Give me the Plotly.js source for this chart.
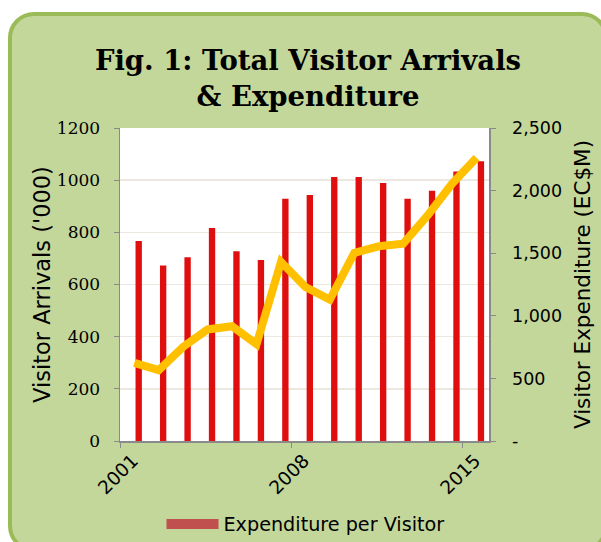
<!DOCTYPE html>
<html>
<head>
<meta charset="utf-8">
<script src="https://cdn.plot.ly/plotly-3.0.1.min.js"></script>
<style>
  html, body { margin: 0; padding: 0; background: #ffffff; width: 601px; height: 542px; overflow: hidden; }
  #box { position: absolute; left: 8px; top: 12px; width: 600px; height: 540px;
         background: #C4D79B; border: 4px solid #9BBB59; border-radius: 26px; box-sizing: border-box; }
  #chart { position: absolute; left: 0; top: 0; width: 601px; height: 542px; }
</style>
</head>
<body>
<div id="box"></div>
<div id="chart"></div>
<script>
// ---- data ----
const years = ['2001','2002','2003','2004','2005','2006','2007','2008','2009','2010','2011','2012','2013','2014','2015'];
const arrivals = [767, 673, 704, 817, 727, 694, 929, 943, 1012, 1012, 989, 929, 959, 1033, 1073];       // '000, left axis
const expenditure = [624, 566, 752, 891, 917, 773, 1430, 1230, 1130, 1502, 1555, 1576, 1802, 2055, 2262]; // EC$M, right axis
const leftTicks = [0, 200, 400, 600, 800, 1000, 1200];
const rightTicks = [0, 500, 1000, 1500, 2000, 2500];
const rightTickText = ['-', '500', '1,000', '1,500', '2,000', '2,500'];
const legendName = 'Expenditure per Visitor';

const sans = 'DejaVu Sans, sans-serif';
const serif = 'DejaVu Serif, serif';

const traces = [
  {
    type: 'bar', x: years, y: arrivals, xaxis: 'x', yaxis: 'y',
    marker: { color: '#E00F0F', line: { width: 0 } },
    width: 0.26, showlegend: false, hoverinfo: 'skip'
  },
  {
    type: 'scatter', mode: 'lines', x: years, y: expenditure, xaxis: 'x2', yaxis: 'y2',
    line: { color: '#FFC000', width: 8, shape: 'linear' },
    showlegend: false, hoverinfo: 'skip'
  },
  {
    type: 'scatter', mode: 'lines', x: [null], y: [null], xaxis: 'x3', yaxis: 'y',
    name: legendName, line: { color: '#C0504D', width: 12 }, showlegend: true
  }
];

const layout = {
  width: 601, height: 542,
  paper_bgcolor: 'rgba(0,0,0,0)',
  plot_bgcolor: '#ffffff',
  margin: { l: 120, r: 112, t: 128, b: 101, pad: 0 },
  title: {
    text: 'Fig. 1: Total Visitor Arrivals<br>& Expenditure',
    font: { family: serif, size: 27.5, color: '#000000', weight: 'bold' },
    x: 308 / 601, xanchor: 'center', xref: 'container',
    y: 1 - 70 / 542, yanchor: 'top', yref: 'container'
  },
  // category axis for the bars: carries the year labels
  xaxis: {
    type: 'category', range: [-0.765, 14.33], dtick: 7,
    ticks: '', showline: true, linecolor: '#8a8a8a', linewidth: 1.5,
    showgrid: false, zeroline: false,
    tickangle: -45, ticklabelstandoff: 10.5, ticklabelshift: -6,
    tickfont: { family: sans, size: 18.6, color: '#000000' },
    fixedrange: true
  },
  // axis for the expenditure line (slightly shifted, as in the original)
  xaxis2: {
    type: 'category', range: [-0.585, 14.51], overlaying: 'x', visible: false, fixedrange: true
  },
  // tick marks only
  xaxis3: {
    type: 'linear', range: [-0.5, 14.595], tick0: -0.5, dtick: 7, overlaying: 'x',
    ticks: 'outside', ticklen: 6, tickcolor: '#8a8a8a', tickwidth: 1,
    showticklabels: false, showline: false, showgrid: false, zeroline: false, fixedrange: true
  },
  yaxis: {
    range: [0, 1200], tickvals: leftTicks,
    ticks: 'outside', ticklen: 5, tickcolor: '#8a8a8a',
    showline: true, linecolor: '#8a8a8a', linewidth: 1.5,
    showgrid: true, gridcolor: '#ECE8E0', gridwidth: 1.5, zeroline: false,
    tickfont: { family: serif, size: 17, color: '#000000' },
    ticklabelstandoff: 10,
    title: { text: "Visitor Arrivals ('000)", font: { family: sans, size: 22.5, color: '#000000' }, standoff: 0 },
    fixedrange: true
  },
  yaxis2: {
    range: [0, 2500], tickvals: rightTicks, ticktext: rightTickText,
    overlaying: 'y', side: 'right', anchor: 'x',
    ticks: 'outside', ticklen: 5, tickcolor: '#8a8a8a',
    showline: true, linecolor: '#8a8a8a', linewidth: 1.5,
    showgrid: false, zeroline: false,
    tickfont: { family: sans, size: 17.5, color: '#000000' },
    ticklabelstandoff: 13,
    title: { text: 'Visitor Expenditure (EC$M)', font: { family: sans, size: 21.5, color: '#000000' }, standoff: 14 },
    fixedrange: true
  },
  showlegend: true,
  legend: {
    orientation: 'h', x: 305.5 / 601, xanchor: 'center', xref: 'container',
    y: 1 - 505 / 542, yanchor: 'top', yref: 'container',
    bgcolor: 'rgba(0,0,0,0)', itemwidth: 52,
    font: { family: sans, size: 19.2, color: '#000000' }
  }
};

Plotly.newPlot('chart', traces, layout, { displayModeBar: false, staticPlot: true });
</script>
</body>
</html>
